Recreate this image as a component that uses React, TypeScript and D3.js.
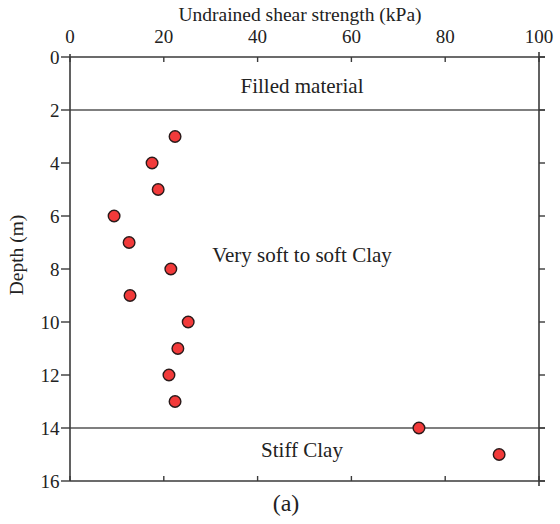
import React from "react";
import * as d3 from "d3";

// Undrained shear strength profile with depth
const depths = [3, 4, 5, 6, 7, 8, 9, 10, 11, 12, 13, 14, 15];
const strengths = [22.4, 17.5, 18.8, 9.4, 12.6, 21.5, 12.8, 25.2, 23.0, 21.1, 22.4, 74.4, 91.5];

const xTicks = [0, 20, 40, 60, 80, 100];
const yTicks = [0, 2, 4, 6, 8, 10, 12, 14, 16];

// Soil layer boundaries and layer names (depth in m)
const layerBoundaries = [2, 14];
const layerNames = ["Filled material", "Very soft to soft Clay", "Stiff Clay"];
const layerLabelDepths = [1.35, 7.74, 15.1];

const W = 560;
const H = 524;
const TXT = { fontFamily: '"Liberation Serif"' };
const AXIS = "#3a3a3a";

export default function App() {
  const left = 70, right = 539, top = 57, bottom = 481;
  const x = d3.scaleLinear().domain([0, 100]).range([left, right]);
  const y = d3.scaleLinear().domain([0, 16]).range([top, bottom]);
  const cx = 302;

  return (
    <svg width={W} height={H}
      style={{ position: "absolute", left: 0, top: 0, background: "#fff" }}>
      {/* layer boundaries */}
      {layerBoundaries.map((d) => (
        <line key={"b" + d} x1={x(0)} x2={x(100) + 6} y1={y(d)} y2={y(d)} stroke="#555" strokeWidth={1.4} />
      ))}
      {/* frame */}
      <line x1={x(0)} x2={x(100) + 6} y1={y(0)} y2={y(0)} stroke={AXIS} strokeWidth={1.6} />
      <line x1={x(0)} x2={x(100) + 6} y1={y(16)} y2={y(16)} stroke={AXIS} strokeWidth={1.6} />
      <line x1={x(0)} x2={x(0)} y1={y(0) - 3} y2={y(16)} stroke={AXIS} strokeWidth={1.6} />
      <line x1={x(100)} x2={x(100)} y1={y(0) - 5} y2={y(16) + 5} stroke={AXIS} strokeWidth={1.6} />

      {/* left axis */}
      {yTicks.map((t) => (
        <g key={"y" + t}>
          <line x1={x(0) - 9} x2={x(0)} y1={y(t)} y2={y(t)} stroke={AXIS} strokeWidth={1.4} />
          <line x1={x(100)} x2={x(100) + 6} y1={y(t)} y2={y(t)} stroke={AXIS} strokeWidth={1.4} />
          <text x={x(0) - 10.5} y={y(t) + 6.5} textAnchor="end" fontSize={19} fill="#222" style={TXT}>{t}</text>
        </g>
      ))}
      {/* top & bottom axes */}
      {xTicks.map((t) => (
        <g key={"x" + t}>
          <line x1={x(t)} x2={x(t)} y1={y(0)} y2={y(0) + 5} stroke={AXIS} strokeWidth={1.4} />
          <line x1={x(t)} x2={x(t)} y1={y(16)} y2={y(16) - 5} stroke={AXIS} strokeWidth={1.4} />
          <text x={x(t)} y={43} textAnchor="middle" fontSize={19} fill="#222" style={TXT}>{t}</text>
        </g>
      ))}

      {/* layer names */}
      {layerNames.map((n, i) => (
        <text key={n} x={cx} y={y(layerLabelDepths[i])} textAnchor="middle" fontSize={21} fill="#222" style={TXT}>{n}</text>
      ))}

      {/* points */}
      {depths.map((d, i) => (
        <circle key={"p" + d} cx={x(strengths[i])} cy={y(d)} r={5.8} fill="#f23a3a" stroke="#2a1a1a" strokeWidth={1.4} />
      ))}

      <text x={300} y={21} textAnchor="middle" fontSize={19.5} fill="#222" style={TXT}>Undrained shear strength (kPa)</text>
      <text transform={`translate(23,255) rotate(-90)`} textAnchor="middle" fontSize={19.5} fill="#222" style={TXT}>Depth (m)</text>
      <text x={286} y={511} textAnchor="middle" fontSize={24} fill="#222" style={TXT}>(a)</text>
    </svg>
  );
}
